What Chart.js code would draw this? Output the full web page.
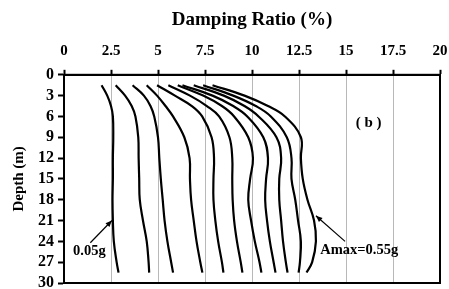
<!DOCTYPE html>
<html>
<head>
<meta charset="utf-8">
<script src="https://cdn.jsdelivr.net/npm/chart.js@4"></script>
<style>
  html, body { margin: 0; padding: 0; background: #fff; }
  #wrap { width: 449px; height: 289px; }
</style>
</head>
<body>
<div id="wrap"><canvas id="dampChart" width="449" height="289"></canvas></div>
<script>
// depth (m) at which each damping profile was read
const depths = [1.5, 3, 4.5, 6, 9, 12, 15, 18, 21, 24, 27, 28.5];

// peak ground acceleration for each profile
const pgaLevels = ['0.05g', '0.10g', '0.15g', '0.20g', '0.25g', '0.30g', '0.35g', '0.40g', '0.45g', '0.50g', '0.55g'];

// damping ratio (%) per profile, same order as depths
const damp005 = [2.0, 2.3, 2.5, 2.6, 2.62, 2.6, 2.6, 2.58, 2.6, 2.65, 2.8, 2.9];
const damp010 = [2.75, 3.25, 3.6, 3.8, 3.95, 3.97, 4.0, 4.03, 4.2, 4.4, 4.5, 4.53];
const damp015 = [3.65, 4.25, 4.6, 4.8, 5.0, 5.07, 5.15, 5.25, 5.35, 5.5, 5.7, 5.8];
const damp020 = [4.4, 4.95, 5.4, 5.8, 6.4, 6.68, 6.7, 6.76, 6.9, 7.05, 7.25, 7.36];
const damp025 = [4.95, 5.9, 6.8, 7.35, 7.85, 7.98, 7.95, 7.95, 8.05, 8.2, 8.4, 8.48];
const damp030 = [5.55, 6.7, 7.6, 8.25, 8.8, 8.95, 8.95, 8.97, 9.05, 9.2, 9.4, 9.49];
const damp035 = [6.05, 7.4, 8.4, 9.05, 9.8, 10.05, 9.9, 9.8, 9.95, 10.15, 10.4, 10.5];
const damp040 = [6.3, 7.9, 9.0, 9.75, 10.6, 10.85, 10.75, 10.7, 10.8, 10.95, 11.15, 11.25];
const damp045 = [6.9, 8.5, 9.6, 10.35, 11.3, 11.55, 11.45, 11.45, 11.55, 11.65, 11.8, 11.89];
const damp050 = [7.4, 9.0, 10.2, 11.0, 11.85, 12.1, 12.1, 12.3, 12.45, 12.6, 12.55, 12.48];
const damp055 = [7.9, 9.6, 10.85, 11.75, 12.6, 12.6, 12.7, 12.95, 13.3, 13.4, 13.2, 12.9];

const profiles = [damp005, damp010, damp015, damp020, damp025, damp030,
                  damp035, damp040, damp045, damp050, damp055];

const xTicks = [0, 2.5, 5, 7.5, 10, 12.5, 15, 17.5, 20];
const yTicks = [0, 3, 6, 9, 12, 15, 18, 21, 24, 27, 30];

const SERIF = '"Liberation Serif", "Times New Roman", serif';

// text labels with arrows, placed in data units
const notes = [
    { text: '0.05g', x: 1.35, y: 25.4, from: [1.4, 24.2], to: [2.55, 21.0] },
    { text: 'Amax=0.55g', x: 15.7, y: 25.3, from: [14.95, 24.0], to: [13.4, 20.3] }
];

const framePlugin = {
    id: 'frame',
    afterDraw(chart) {
        const { ctx, chartArea: a } = chart;
        ctx.save();
        ctx.strokeStyle = '#000';
        ctx.lineWidth = 2;
        ctx.strokeRect(a.left, a.top, a.right - a.left, a.bottom - a.top);
        ctx.restore();
    }
};

const notesPlugin = {
    id: 'notes',
    afterDatasetsDraw(chart) {
        const { ctx } = chart;
        const sx = chart.scales.x, sy = chart.scales.y;
        ctx.save();
        ctx.fillStyle = '#000';
        ctx.strokeStyle = '#000';
        ctx.font = 'bold 14.5px ' + SERIF;
        ctx.textAlign = 'center';
        ctx.textBaseline = 'middle';
        notes.forEach(n => {
            ctx.fillText(n.text, sx.getPixelForValue(n.x), sy.getPixelForValue(n.y));
            const x1 = sx.getPixelForValue(n.from[0]), y1 = sy.getPixelForValue(n.from[1]);
            const x2 = sx.getPixelForValue(n.to[0]), y2 = sy.getPixelForValue(n.to[1]);
            ctx.lineWidth = 1.2;
            ctx.beginPath();
            ctx.moveTo(x1, y1);
            ctx.lineTo(x2, y2);
            ctx.stroke();
            const ang = Math.atan2(y2 - y1, x2 - x1);
            ctx.beginPath();
            ctx.moveTo(x2, y2);
            ctx.lineTo(x2 - 7 * Math.cos(ang - 0.4), y2 - 7 * Math.sin(ang - 0.4));
            ctx.lineTo(x2 - 7 * Math.cos(ang + 0.4), y2 - 7 * Math.sin(ang + 0.4));
            ctx.closePath();
            ctx.fill();
        });
        ctx.font = 'bold 15px ' + SERIF;
        ctx.fillText('( b )', sx.getPixelForValue(16.2), sy.getPixelForValue(7));
        ctx.restore();
    }
};

// let the layout padding alone decide where the plot box sits
const noEdgePadding = axis => {
    axis.paddingLeft = 0;
    axis.paddingRight = 0;
    axis.paddingTop = 0;
    axis.paddingBottom = 0;
};

const ctx = document.getElementById('dampChart').getContext('2d');
new Chart(ctx, {
    type: 'scatter',
    data: {
        datasets: profiles.map((vals, i) => ({
            label: pgaLevels[i],
            data: depths.map((d, j) => ({ x: vals[j], y: d })),
            showLine: true,
            borderColor: '#000',
            borderWidth: 2.2,
            pointRadius: 0,
            tension: 0.4,
            fill: false
        }))
    },
    options: {
        responsive: false,
        animation: false,
        devicePixelRatio: 1,
        layout: { padding: { left: 10, right: 9, top: 9, bottom: 6 } },
        plugins: {
            legend: { display: false },
            tooltip: { enabled: false }
        },
        scales: {
            x: {
                type: 'linear',
                position: 'top',
                min: 0,
                max: 20,
                afterBuildTicks: axis => { axis.ticks = xTicks.map(v => ({ value: v })); },
                afterFit: noEdgePadding,
                ticks: {
                    color: '#000',
                    padding: 10,
                    autoSkip: false,
                    maxRotation: 0,
                    font: { family: SERIF, size: 15, weight: 'bold' }
                },
                title: {
                    display: true,
                    text: 'Damping Ratio (%)',
                    color: '#000',
                    padding: { top: 0, bottom: 0 },
                    font: { family: SERIF, size: 19, weight: 'bold' }
                },
                grid: {
                    color: 'rgba(0,0,0,0.28)',
                    lineWidth: 1,
                    tickColor: '#000',
                    tickLength: 5,
                    tickWidth: 2
                },
                border: { color: '#000', width: 2 }
            },
            y: {
                type: 'linear',
                reverse: true,
                min: 0,
                max: 30,
                afterBuildTicks: axis => { axis.ticks = yTicks.map(v => ({ value: v })); },
                afterFit: noEdgePadding,
                ticks: {
                    color: '#000',
                    padding: 4,
                    autoSkip: false,
                    font: { family: SERIF, size: 16, weight: 'bold' }
                },
                title: {
                    display: true,
                    text: 'Depth (m)',
                    color: '#000',
                    padding: { top: 0, bottom: 6 },
                    font: { family: SERIF, size: 15, weight: 'bold' }
                },
                grid: {
                    drawOnChartArea: false,
                    tickColor: '#000',
                    tickLength: 6,
                    tickWidth: 2
                },
                border: { color: '#000', width: 2 }
            }
        }
    },
    plugins: [framePlugin, notesPlugin]
});
</script>
</body>
</html>
